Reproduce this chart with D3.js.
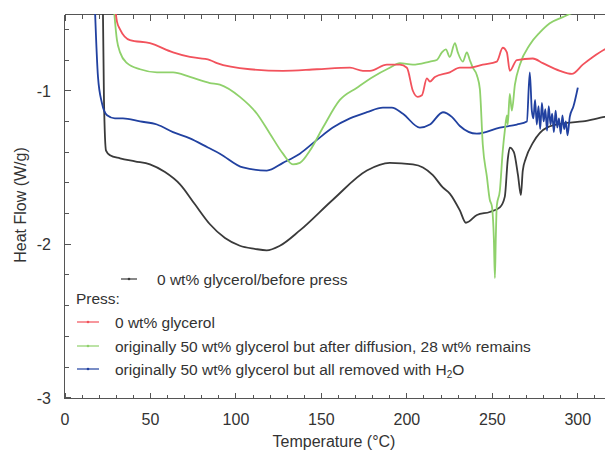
<!DOCTYPE html>
<html>
<head>
  <meta charset="utf-8">
  <title>DSC heat flow</title>
  <script src="https://d3js.org/d3.v7.min.js"></script>
  <style>
    body { margin: 0; background: #fff; }
    text { font-family: "Liberation Sans", Arial, sans-serif; fill: #333; }
    .curve { fill: none; stroke-width: 1.8px; stroke-linejoin: round; }
    .frame line { stroke: #555; stroke-width: 1px; shape-rendering: crispEdges; }
  </style>
</head>
<body>
  <svg width="605" height="454"></svg>

  <script>
    const width = 605;
    const height = 454;

    // [temperature °C, heat flow W/g]
    const beforePress = [
      [22, -0.3], [22.8, -1.06], [24, -1.39], [26.3, -1.42], [32.2, -1.44], [40.9, -1.46],
      [49.7, -1.48], [58.5, -1.53], [67.3, -1.61], [76, -1.74], [84.8, -1.87], [93.6, -1.96],
      [102.3, -2.01], [111, -2.03], [118, -2.04], [125.7, -2.01], [137.4, -1.91], [156.7, -1.71],
      [176.6, -1.52], [190, -1.47], [203.5, -1.48], [209.4, -1.50], [215.2, -1.55], [221, -1.63],
      [225.1, -1.67], [231, -1.78], [234.5, -1.86], [241, -1.81], [248.5, -1.79], [254.4, -1.76],
      [257.3, -1.69], [259, -1.45], [260.2, -1.37], [262.6, -1.40], [265, -1.55], [266.7, -1.68],
      [267.8, -1.52], [269.6, -1.44], [273.7, -1.34], [281.9, -1.24], [293.6, -1.21],
      [302.9, -1.20], [315.8, -1.17], [322, -1.16]
    ];

    const press0 = [
      [28, -0.3], [30.4, -0.55], [32.2, -0.60], [38, -0.67], [49.7, -0.69], [63.2, -0.75],
      [73.1, -0.78], [84.8, -0.80], [88.9, -0.82], [108.2, -0.86], [127.5, -0.87], [147.4, -0.86],
      [166.7, -0.85], [174.3, -0.87], [178.4, -0.87], [188.3, -0.83], [195.9, -0.83], [200, -0.85],
      [203.5, -1.00], [206.4, -1.04], [208.8, -1.03], [211.7, -0.92], [213.5, -0.94], [216.4, -0.91],
      [225.1, -0.88], [231, -0.85], [236.8, -0.85], [244.4, -0.83], [252.6, -0.81], [256.1, -0.72],
      [258.5, -0.75], [260.2, -0.87], [264.3, -0.80], [273.7, -0.79], [279.5, -0.82], [289.5, -0.87],
      [296.5, -0.89], [302.9, -0.83], [308.8, -0.78], [315.8, -0.73], [322, -0.70]
    ];

    const press28 = [
      [27.5, -0.3], [30.4, -0.67], [32.2, -0.75], [36.3, -0.82], [43.9, -0.86], [53.8, -0.88],
      [63.2, -0.88], [73.1, -0.91], [84.8, -0.95], [90.6, -0.96], [102.3, -1.04], [112.3, -1.15],
      [119.9, -1.28], [127.5, -1.41], [133.3, -1.48], [137.4, -1.47], [143.3, -1.39], [150.9, -1.24],
      [160.8, -1.06], [170.8, -0.98], [180.1, -0.91], [190, -0.85], [195.9, -0.82], [203.5, -0.83],
      [213.5, -0.81], [217.5, -0.80], [220.5, -0.75], [222.8, -0.73], [225.1, -0.78], [228.1, -0.69],
      [229.8, -0.75], [232.7, -0.81], [235.1, -0.75], [236.8, -0.80], [238.6, -0.85], [241, -0.90],
      [242.7, -0.99], [244.4, -1.35], [246.8, -1.56], [248.5, -1.71], [249.7, -1.75], [250.9, -1.97],
      [251.5, -2.22], [252, -1.97], [252.6, -1.75], [254.4, -1.65], [256.1, -1.39], [257.3, -1.26],
      [258.5, -1.16], [259, -1.22], [260.2, -1.02], [261.4, -1.13], [263.2, -0.96], [266.1, -0.83],
      [271.9, -0.70], [277.8, -0.62], [283.6, -0.56], [291.2, -0.52], [297.1, -0.49], [304, -0.44]
    ];

    const pressH2O = [
      [17, -0.3], [19.3, -0.91], [21.6, -1.08], [24.6, -1.16], [29.2, -1.18], [33.9, -1.18],
      [43.9, -1.20], [53.8, -1.22], [63.2, -1.27], [73.1, -1.31], [83.6, -1.37], [90.6, -1.41],
      [104.1, -1.50], [118.1, -1.52], [127.5, -1.47], [137.4, -1.41], [147.4, -1.32], [156.7, -1.24],
      [166.7, -1.18], [176.6, -1.14], [186, -1.11], [191.2, -1.11], [197.7, -1.15], [207.6, -1.24],
      [213.5, -1.22], [221.1, -1.14], [226.3, -1.17], [231, -1.23], [240.9, -1.28], [254.4, -1.24],
      [264.3, -1.22], [270.2, -1.20], [271.9, -0.88], [273.1, -1.13], [274, -1.18], [275, -1.06],
      [276, -1.22], [277, -1.10], [278, -1.25], [279, -1.08], [280, -1.20], [281, -1.12],
      [282, -1.26], [283, -1.10], [284, -1.22], [285, -1.15], [286, -1.27], [287, -1.13],
      [288, -1.24], [289, -1.18], [290, -1.28], [291, -1.16], [292, -1.25], [293, -1.20],
      [294, -1.29], [295.3, -1.17], [297.5, -1.10], [300, -0.98]
    ];

    const xTicks = [0, 50, 100, 150, 200, 250, 300];
    const yTicks = [-3, -2, -1];
    const xMinor = d3.range(0, 321, 10);
    const yMinor = d3.range(-3, -0.49, 0.2);

    const svg = d3.select("svg")
      .attr("width", width)
      .attr("height", height);

    const x = d3.scaleLinear().domain([0, 320]).range([65, 612]);
    const y = d3.scaleLinear().domain([-3, -0.5]).range([397.7, 14]);

    svg.append("defs").append("clipPath")
      .attr("id", "plot")
      .append("rect")
      .attr("x", 65).attr("y", 14)
      .attr("width", 560).attr("height", 384);

    // frame: bottom axis, left axis, top border, all ticks pointing inwards
    const frame = svg.append("g").attr("class", "frame");
    const x0 = Math.round(x(0)) - 0.5, yb = Math.round(y(-3)) + 0.5, yt = Math.round(y(-0.5)) + 0.5;
    frame.append("line").attr("x1", x0).attr("x2", width).attr("y1", yb).attr("y2", yb);
    frame.append("line").attr("x1", x0).attr("x2", width).attr("y1", yt).attr("y2", yt);
    frame.append("line").attr("x1", x0).attr("x2", x0).attr("y1", yt).attr("y2", yb);

    const isMajorX = d => d % 50 === 0;
    frame.selectAll(".xb").data(xMinor).join("line")
      .attr("x1", d => x(d)).attr("x2", d => x(d))
      .attr("y1", yb).attr("y2", d => yb - (isMajorX(d) ? 6 : 4));
    frame.selectAll(".xt").data(xMinor).join("line")
      .attr("x1", d => x(d)).attr("x2", d => x(d))
      .attr("y1", yt).attr("y2", d => yt + (isMajorX(d) ? 6 : 4));
    const isMajorY = d => Math.abs(d - Math.round(d)) < 1e-6;
    frame.selectAll(".yl").data(yMinor).join("line")
      .attr("y1", d => y(d)).attr("y2", d => y(d))
      .attr("x1", x0).attr("x2", d => x0 + (isMajorY(d) ? 6 : 4));

    svg.append("g").selectAll("text")
      .data(xTicks)
      .join("text")
      .attr("x", d => x(d))
      .attr("y", 425)
      .attr("text-anchor", "middle")
      .attr("font-size", "16px")
      .text(d => d);

    svg.append("g").selectAll("text")
      .data(yTicks)
      .join("text")
      .attr("x", 51)
      .attr("y", d => y(d) + 6)
      .attr("text-anchor", "end")
      .attr("font-size", "16px")
      .text(d => d);

    svg.append("text")
      .attr("x", 334).attr("y", 447)
      .attr("text-anchor", "middle")
      .attr("font-size", "16px")
      .text("Temperature (°C)");

    svg.append("text")
      .attr("transform", "translate(26,205) rotate(-90)")
      .attr("text-anchor", "middle")
      .attr("font-size", "16px")
      .text("Heat Flow (W/g)");

    // curves
    const line = d3.line().x(d => x(d[0])).y(d => y(d[1])).curve(d3.curveMonotoneX);
    const series = [
      { data: beforePress, color: "#3a3a3a" },
      { data: pressH2O, color: "#2141a0" },
      { data: press28, color: "#8fd16b" },
      { data: press0, color: "#f2525c" }
    ];
    const plot = svg.append("g").attr("clip-path", "url(#plot)");
    series.forEach(s => {
      plot.append("path")
        .attr("class", "curve")
        .attr("stroke", s.color)
        .attr("d", line(s.data));
    });

    // legend
    const legend = svg.append("g").attr("font-size", "15.5px");
    function sample(x1, x2, yy, color) {
      legend.append("line")
        .attr("x1", x1).attr("x2", x2).attr("y1", yy).attr("y2", yy)
        .attr("stroke", color).attr("stroke-width", 1.2);
      legend.append("circle")
        .attr("cx", (x1 + x2) / 2).attr("cy", yy).attr("r", 1.3)
        .attr("fill", color);
    }
    sample(121, 137, 279, "#3a3a3a");
    legend.append("text").attr("x", 157).attr("y", 285).text("0 wt% glycerol/before press");
    legend.append("text").attr("x", 76).attr("y", 304).text("Press:");
    sample(77, 99, 322, "#f2525c");
    legend.append("text").attr("x", 115).attr("y", 328).text("0 wt% glycerol");
    sample(77, 99, 346, "#8fd16b");
    legend.append("text").attr("x", 115).attr("y", 352)
      .text("originally 50 wt% glycerol but after diffusion, 28 wt% remains");
    sample(77, 99, 369, "#2141a0");
    const t = legend.append("text").attr("x", 115).attr("y", 375);
    t.append("tspan").text("originally 50 wt% glycerol but all removed with H");
    t.append("tspan").attr("font-size", "10px").attr("dy", 3).text("2");
    t.append("tspan").attr("dy", -3).text("O");
  </script>
</body>
</html>
